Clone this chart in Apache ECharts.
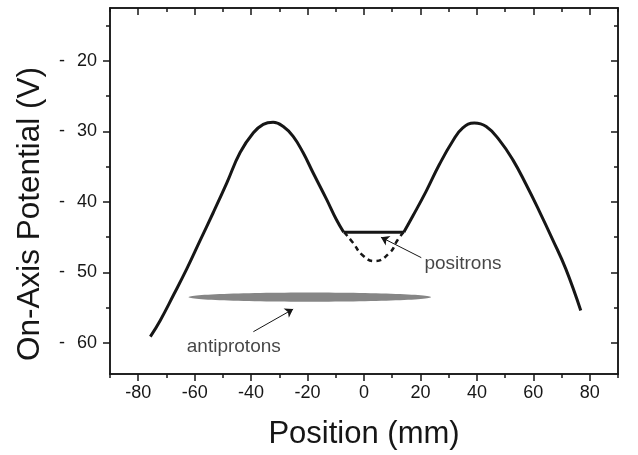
<!DOCTYPE html>
<html>
<head>
<meta charset="utf-8">
<script src="https://cdn.jsdelivr.net/npm/echarts@6/dist/echarts.min.js"></script>
<style>
  html, body { margin: 0; padding: 0; background: #fff; }
  #chart { width: 638px; height: 455px; }
</style>
</head>
<body>
<div id="chart"></div>
<script>
// potential profile
var leftX = [-75.7, -72.2, -67.5, -62.8, -58.1, -53.4, -48.6, -43.9, -39.2, -35.7, -32.2, -28.6, -25.1, -21.6, -18.0, -13.3, -9.8, -7.2]
var leftY = [59.1, 56.8, 53.2, 49.5, 45.5, 41.5, 37.3, 33.0, 30.2, 29.0, 28.7, 29.3, 30.7, 33.0, 35.9, 39.6, 42.5, 44.3]
var rightX = [14.1, 17.3, 22.0, 26.7, 31.4, 35.0, 39.1, 43.3, 47.9, 52.7, 57.4, 62.1, 66.8, 71.5, 76.8]
var rightY = [44.3, 42.0, 38.5, 34.7, 31.4, 29.5, 28.8, 29.3, 31.2, 34.0, 37.5, 41.3, 45.3, 49.5, 55.4]
var flatX = [-7.2, 14.1]
var flatY = [44.3, 44.3]
var dipX = [-7.0, -3.9, -0.4, 3.8, 9.1, 11.9, 14.0]
var dipY = [44.3, 45.8, 47.6, 48.4, 47.2, 45.4, 44.3]

// antiproton cloud (x extent, centre potential, half thickness)
var cloudX = [-62.2, 23.8]
var cloudY = 53.5
var cloudHalf = 0.65

// annotations
var notes = ['positrons', 'antiprotons']
var noteX = [21.4, -62.8]
var noteY = [48.8, 60.6]
var arrowFrom = [[20.3, 47.9], [-39.2, 58.4]]
var arrowTo = [[6.0, 45.0], [-25.1, 55.2]]

// axes
var xMajor = [-80, -60, -40, -20, 0, 20, 40, 60, 80]
var xMinor = [-90, -70, -50, -30, -10, 10, 30, 50, 70, 90]
var yMajor = [20, 30, 40, 50, 60]
var yMinor = [15, 25, 35, 45, 55]

var FONT = 'Liberation Sans, Arial, Helvetica, sans-serif'
var INK = '#161616'

var zip = function (xs, ys) {
  return xs.map(function (x, i) { return [x, ys[i]] })
}

var axis = function (pos, ticks, len, inside, min, max, extra) {
  var a = {
    type: 'value',
    position: pos,
    min: min,
    max: max,
    axisLine: {show: true, onZero: false, lineStyle: {color: INK, width: 1.5}},
    axisTick: {show: true, customValues: ticks, length: len, inside: inside, lineStyle: {color: INK, width: 1.5}},
    axisLabel: {show: false},
    splitLine: {show: false},
  }
  return Object.assign(a, extra || {})
}

var chart = echarts.init(document.getElementById('chart'))

chart.setOption({
  animation: false,
  grid: {left: 110, top: 8, right: 20, bottom: 80, containLabel: false},
  xAxis: [
    axis('bottom', xMajor, 7, false, -90, 90, {
      name: 'Position (mm)',
      nameLocation: 'middle',
      nameGap: 45,
      nameTextStyle: {fontSize: 31, fontFamily: FONT, color: INK},
      axisLabel: {show: true, customValues: xMajor, margin: 10, fontSize: 18, fontFamily: FONT, color: INK},
    }),
    axis('bottom', xMinor, 4, false, -90, 90),
    axis('top', xMajor, 7, true, -90, 90),
    axis('top', xMinor, 4, true, -90, 90),
  ],
  yAxis: [
    axis('left', yMajor, 7, false, 12.5, 64.4, {
      inverse: true,
      name: 'On-Axis Potential (V)',
      nameLocation: 'middle',
      nameGap: 64,
      nameTextStyle: {fontSize: 31.5, fontFamily: FONT, color: INK, padding: [0, 46, 0, 0]},
      axisLabel: {
        show: true,
        customValues: yMajor,
        margin: 13,
        fontSize: 18,
        fontFamily: FONT,
        color: INK,
        formatter: function (v) { return '{d|-}{v|' + v + '}' },
        rich: {
          d: {width: 18, align: 'left', fontSize: 18, fontFamily: FONT, color: INK},
          v: {fontSize: 18, fontFamily: FONT, color: INK},
        },
      },
    }),
    axis('left', yMinor, 4, false, 12.5, 64.4, {inverse: true}),
    axis('right', yMajor, 7, true, 12.5, 64.4, {inverse: true}),
    axis('right', yMinor, 4, true, 12.5, 64.4, {inverse: true}),
  ],
  series: [
    {
      type: 'custom',
      silent: true,
      data: [[cloudX[0], cloudY]],
      renderItem: function (params, api) {
        var a = api.coord([cloudX[0], cloudY])
        var b = api.coord([cloudX[1], cloudY])
        var t = api.coord([cloudX[0], cloudY - cloudHalf])
        var cx = (a[0] + b[0]) / 2, cy = a[1]
        var rx = (b[0] - a[0]) / 2, ry = Math.abs(a[1] - t[1])
        var pts = []
        for (var i = 0; i < 120; i++) {
          var ang = i / 120 * Math.PI * 2
          pts.push([cx + rx * Math.cos(ang), cy + ry * Math.sin(ang)])
        }
        return {type: 'polygon', shape: {points: pts}, style: {fill: '#868686'}}
      },
    },
    {
      type: 'line', data: zip(leftX, leftY), smooth: 0.45, showSymbol: false, silent: true,
      lineStyle: {color: INK, width: 3},
    },
    {
      type: 'line', data: zip(flatX, flatY), showSymbol: false, silent: true,
      lineStyle: {color: INK, width: 3},
    },
    {
      type: 'line', data: zip(rightX, rightY), smooth: 0.45, showSymbol: false, silent: true,
      lineStyle: {color: INK, width: 3},
    },
    {
      type: 'line', data: zip(dipX, dipY), smooth: 0.5, showSymbol: false, silent: true,
      lineStyle: {color: INK, width: 2.5, type: [5, 4]},
    },
    {
      type: 'lines',
      coordinateSystem: 'cartesian2d',
      silent: true,
      symbol: ['none', 'arrow'],
      symbolSize: 8,
      lineStyle: {color: INK, width: 1, opacity: 1, curveness: 0},
      data: arrowFrom.map(function (p, i) { return {coords: [p, arrowTo[i]]} }),
    },
    {
      type: 'scatter',
      silent: true,
      symbolSize: 0,
      data: notes.map(function (n, i) { return [noteX[i], noteY[i], n] }),
      label: {
        show: true,
        position: 'right',
        distance: 0,
        fontSize: 19,
        fontFamily: FONT,
        color: INK,
        formatter: function (p) { return p.data[2] },
      },
    },
  ],
})
</script>
</body>
</html>
